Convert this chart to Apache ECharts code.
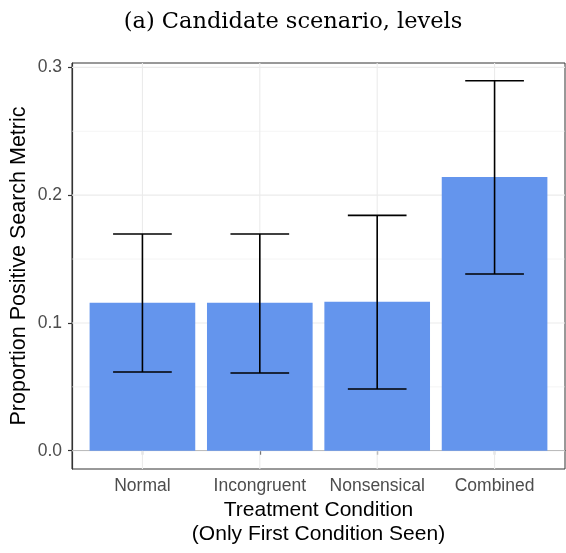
<!DOCTYPE html>
<html>
<head>
<meta charset="utf-8">
<script src="https://cdn.jsdelivr.net/npm/echarts@6/dist/echarts.min.js"></script>
<style>
  html, body { margin: 0; padding: 0; background: #ffffff; }
  #chart { width: 566px; height: 553px; }
</style>
</head>
<body>
<div id="chart"></div>
<script>
// Treatment conditions and their proportions with 95% interval bounds
const categories = ['Normal', 'Incongruent', 'Nonsensical', 'Combined'];
const proportions = [0.1158, 0.1158, 0.1166, 0.2142];
const lowerBounds = [0.0616, 0.0608, 0.0483, 0.1383];
const upperBounds = [0.1696, 0.1696, 0.1842, 0.2895];

// Axis breaks
const yMajorBreaks = [0.0, 0.1, 0.2, 0.3];
const yMinorBreaks = [0.05, 0.15, 0.25];
const xPositions = [1, 2, 3, 4];

const chart = echarts.init(document.getElementById('chart'), null, { renderer: 'canvas' });

const sansFont = 'Liberation Sans, Arial, Helvetica, sans-serif';
const gridColor = '#ebebeb';
const yLimits = [-0.0143, 0.3034];
const xLimits = [0.4, 4.6];

const barData = proportions.map((v, i) => [xPositions[i], v]);
const errData = lowerBounds.map((lo, i) => [xPositions[i], lo, upperBounds[i]]);

// Panel grid lines: horizontal at y breaks, vertical at category centres
const gridLineData = []
  .concat(yMajorBreaks.map(v => ['h', v, 1.1]))
  .concat(yMinorBreaks.map(v => ['h', v, 0.55]))
  .concat(xPositions.map(v => ['v', v, 1.1]));

const option = {
  animation: false,
  backgroundColor: '#ffffff',
  title: {
    text: '(a) Candidate scenario, levels',
    left: 288,
    textAlign: 'center',
    top: 6,
    textStyle: {
      fontFamily: 'DejaVu Serif, Liberation Serif, serif',
      fontWeight: 'normal',
      fontSize: 22.5,
      color: '#000000'
    }
  },
  grid: {
    left: 72,
    right: 1,
    top: 63,
    bottom: 84,
    outerBoundsMode: 'none',
    containLabel: false,
    show: true,
    borderColor: '#333333',
    borderWidth: 1,
    backgroundColor: '#ffffff'
  },
  xAxis: {
    type: 'value',
    min: xLimits[0],
    max: xLimits[1],
    interval: 1,
    name: 'Treatment Condition\n(Only First Condition Seen)',
    nameLocation: 'middle',
    nameGap: 29,
    nameMoveOverlap: false,
    nameTextStyle: {
      fontFamily: sansFont,
      fontSize: 21,
      color: '#000000',
      lineHeight: 24
    },
    axisLine: { show: true, lineStyle: { color: '#333333', width: 1.2 } },
    axisTick: {
      show: true,
      customValues: xPositions,
      length: 4,
      lineStyle: { color: '#333333', width: 1.2 }
    },
    axisLabel: {
      customValues: xPositions,
      margin: 8,
      fontFamily: sansFont,
      fontSize: 17.5,
      color: '#4d4d4d',
      formatter: v => categories[Math.round(v) - 1] || ''
    },
    splitLine: { show: false }
  },
  yAxis: {
    type: 'value',
    min: yLimits[0],
    max: yLimits[1],
    name: 'Proportion Positive Search Metric',
    nameLocation: 'middle',
    nameRotate: 90,
    nameGap: 42,
    nameMoveOverlap: false,
    nameTextStyle: {
      fontFamily: sansFont,
      fontSize: 21.5,
      color: '#000000'
    },
    axisLine: { show: true, lineStyle: { color: '#333333', width: 1.2 } },
    axisTick: {
      show: true,
      customValues: yMajorBreaks,
      length: 4,
      lineStyle: { color: '#333333', width: 1.2 }
    },
    axisLabel: {
      customValues: yMajorBreaks,
      margin: 10,
      fontFamily: sansFont,
      fontSize: 17.5,
      color: '#4d4d4d',
      formatter: v => v.toFixed(1)
    },
    splitLine: { show: false }
  },
  series: [
    {
      // panel grid lines
      type: 'custom',
      z: 1,
      silent: true,
      data: gridLineData,
      renderItem: function (params, api) {
        const d = gridLineData[params.dataIndex];
        let p1, p2;
        if (d[0] === 'h') {
          p1 = api.coord([xLimits[0], d[1]]);
          p2 = api.coord([xLimits[1], d[1]]);
        } else {
          p1 = api.coord([d[1], yLimits[0]]);
          p2 = api.coord([d[1], yLimits[1]]);
        }
        return {
          type: 'line',
          shape: { x1: p1[0], y1: p1[1], x2: p2[0], y2: p2[1] },
          style: { stroke: gridColor, lineWidth: d[2] }
        };
      }
    },
    {
      // bars
      type: 'custom',
      z: 2,
      data: barData,
      encode: { x: 0, y: 1 },
      renderItem: function (params, api) {
        const x = api.value(0);
        const v = api.value(1);
        const tl = api.coord([x - 0.45, v]);
        const br = api.coord([x + 0.45, 0]);
        return {
          type: 'rect',
          shape: { x: tl[0], y: tl[1], width: br[0] - tl[0], height: br[1] - tl[1] },
          style: { fill: '#6495ed' }
        };
      }
    },
    {
      // interval whiskers
      type: 'custom',
      z: 3,
      data: errData,
      encode: { x: 0, y: [1, 2] },
      renderItem: function (params, api) {
        const x = api.value(0);
        const lo = api.value(1);
        const hi = api.value(2);
        const pLo = api.coord([x, lo]);
        const pHi = api.coord([x, hi]);
        const loL = api.coord([x - 0.25, lo]);
        const loR = api.coord([x + 0.25, lo]);
        const hiL = api.coord([x - 0.25, hi]);
        const hiR = api.coord([x + 0.25, hi]);
        const style = { stroke: '#000000', lineWidth: 1.6 };
        return {
          type: 'group',
          children: [
            { type: 'line', shape: { x1: pLo[0], y1: pLo[1], x2: pHi[0], y2: pHi[1] }, style: style },
            { type: 'line', shape: { x1: loL[0], y1: loL[1], x2: loR[0], y2: loR[1] }, style: style },
            { type: 'line', shape: { x1: hiL[0], y1: hiL[1], x2: hiR[0], y2: hiR[1] }, style: style }
          ]
        };
      }
    }
  ]
};

chart.setOption(option);
</script>
</body>
</html>
